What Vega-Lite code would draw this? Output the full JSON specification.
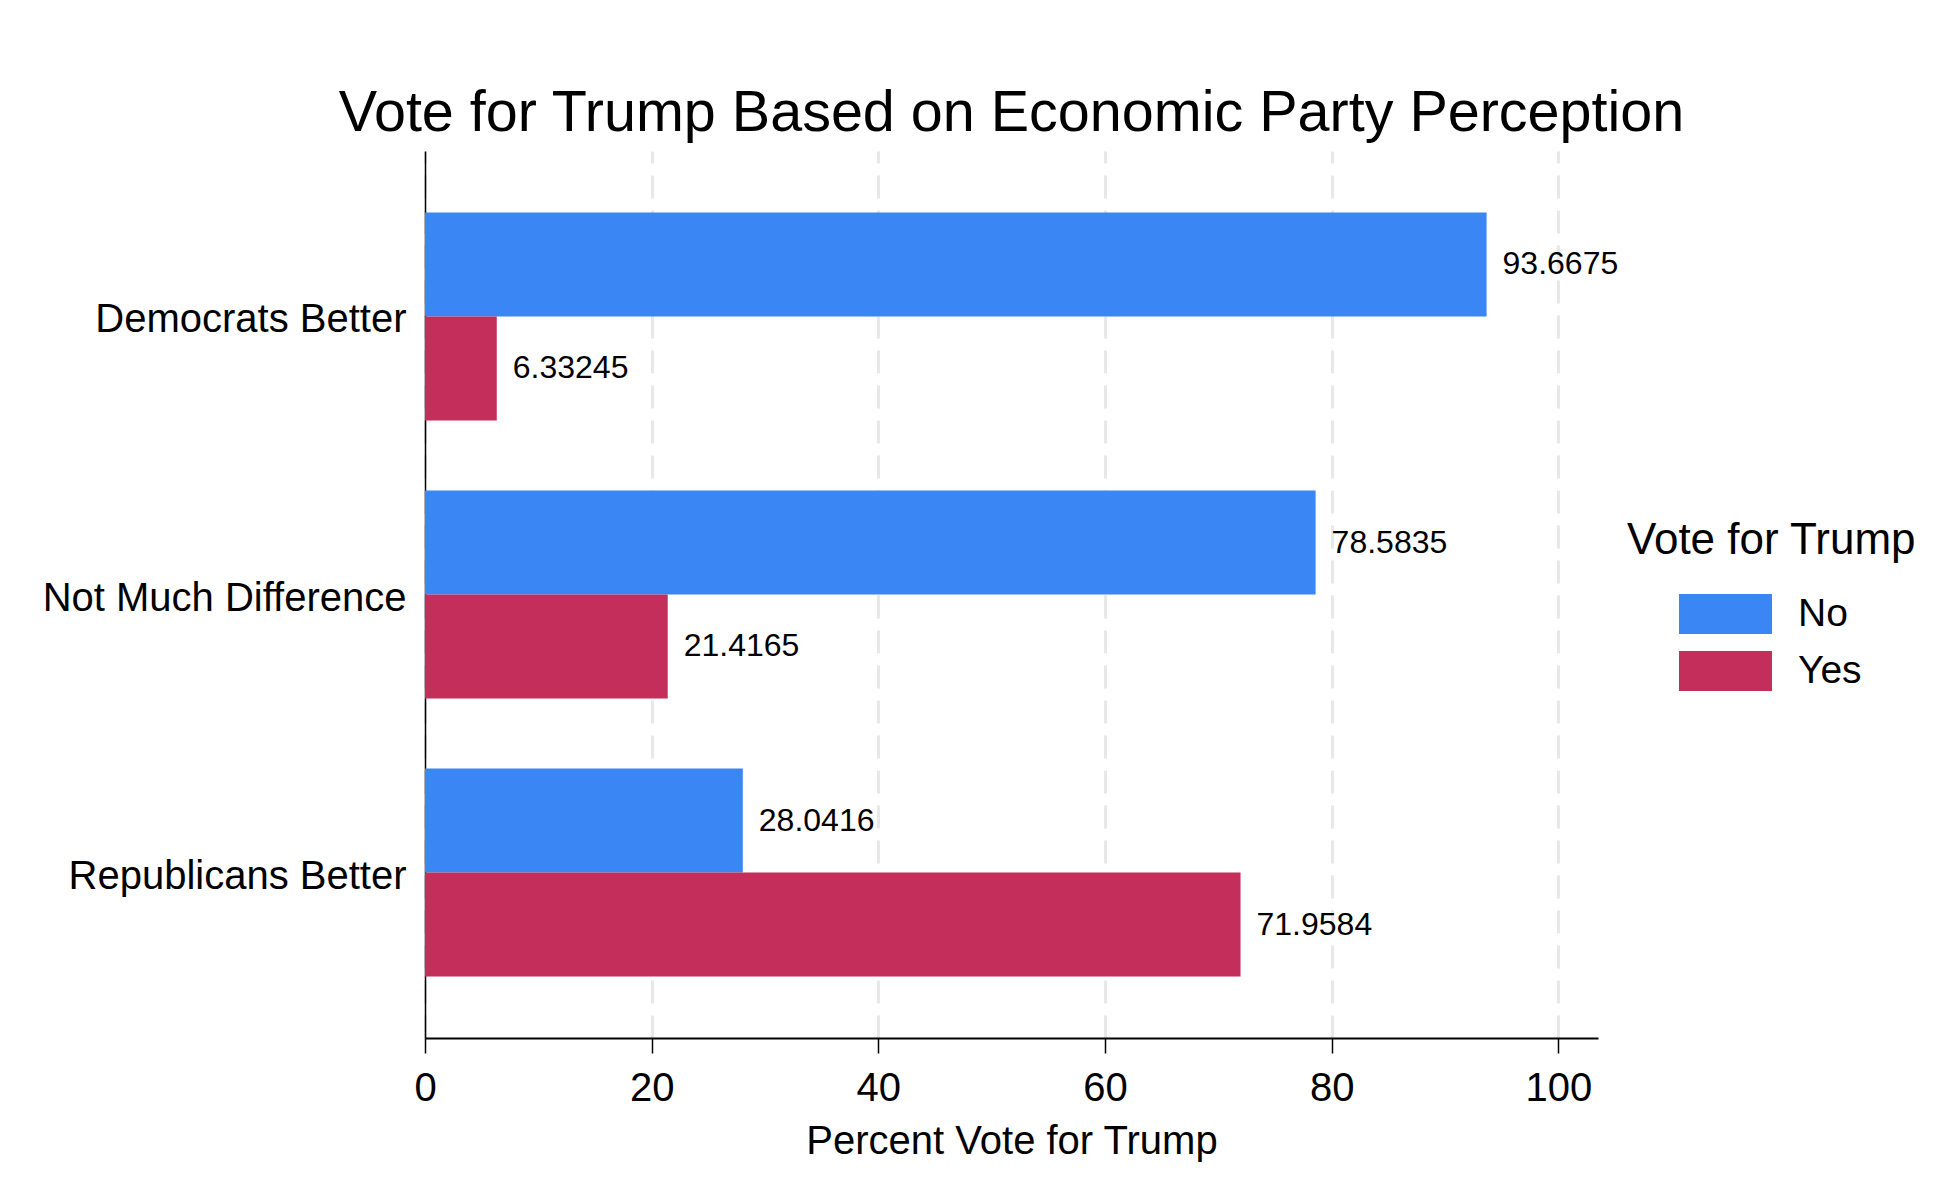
{
  "$schema": "https://vega.github.io/schema/vega-lite/v6.json",
  "width": 1173,
  "height": 887,
  "autosize": {"type": "none"},
  "padding": {"left": 425, "top": 151, "right": 345, "bottom": 152},
  "background": "white",
  "config": {"font": "Liberation Sans", "view": {"stroke": null}},
  "title": {
    "text": "Vote for Trump Based on Economic Party Perception",
    "fontSize": 57.5,
    "fontWeight": "normal",
    "color": "black",
    "anchor": "middle",
    "offset": 8
  },
  "data": {
    "values": [
      {"perception": "Democrats Better", "vote": "No", "pct": 93.6675},
      {"perception": "Democrats Better", "vote": "Yes", "pct": 6.33245},
      {"perception": "Not Much Difference", "vote": "No", "pct": 78.5835},
      {"perception": "Not Much Difference", "vote": "Yes", "pct": 21.4165},
      {"perception": "Republicans Better", "vote": "No", "pct": 28.0416},
      {"perception": "Republicans Better", "vote": "Yes", "pct": 71.9584}
    ]
  },
  "encoding": {
    "y": {
      "field": "perception",
      "type": "nominal",
      "sort": null,
      "scale": {"paddingInner": 0.252, "paddingOuter": 0.221},
      "axis": {
        "title": null,
        "ticks": false,
        "labelFontSize": 40,
        "labelColor": "black",
        "labelPadding": 19,
        "labelLimit": 0,
        "labelOffset": 4,
        "domainColor": "black",
        "domainWidth": 1.5,
        "grid": false
      }
    },
    "yOffset": {
      "field": "vote",
      "type": "nominal",
      "sort": ["No", "Yes"],
      "scale": {"paddingInner": 0, "paddingOuter": 0}
    },
    "x": {
      "field": "pct",
      "type": "quantitative",
      "scale": {"domain": [0, 103.5], "nice": false},
      "axis": {
        "values": [0, 20, 40, 60, 80, 100],
        "title": "Percent Vote for Trump",
        "titleFontSize": 40,
        "titleFontWeight": "normal",
        "titleColor": "black",
        "titlePadding": 13,
        "labelFontSize": 40,
        "labelColor": "black",
        "labelPadding": 15,
        "labelFlush": false,
        "tickColor": "black",
        "tickSize": 15,
        "tickWidth": 1.5,
        "domainColor": "black",
        "domainWidth": 2,
        "grid": true,
        "gridColor": "#e8e8e8",
        "gridWidth": 3,
        "gridDash": [23, 12]
      }
    }
  },
  "layer": [
    {
      "mark": {"type": "bar"},
      "encoding": {
        "color": {
          "field": "vote",
          "type": "nominal",
          "scale": {"domain": ["No", "Yes"], "range": ["#3a86f4", "#c32f5a"]},
          "legend": {
            "title": "Vote for Trump",
            "orient": "none",
            "legendX": 1202,
            "legendY": 368,
            "padding": 0,
            "titleFontSize": 44,
            "titleFontWeight": "normal",
            "titleColor": "black",
            "titleLimit": 0,
            "titlePadding": 31,
            "labelFontSize": 39,
            "labelColor": "black",
            "labelLimit": 0,
            "symbolType": "M-2.325,-1L2.325,-1L2.325,1L-2.325,1Z",
            "symbolSize": 1600,
            "symbolStrokeWidth": 0,
            "symbolOpacity": 1,
            "symbolOffset": 78.5,
            "labelOffset": 52.5,
            "rowPadding": 17
          }
        }
      }
    },
    {
      "mark": {"type": "text", "align": "left", "baseline": "middle", "dx": 16, "fontSize": 32, "color": "black"},
      "encoding": {
        "text": {"field": "pct", "type": "quantitative", "format": ".6~g"}
      }
    }
  ]
}
